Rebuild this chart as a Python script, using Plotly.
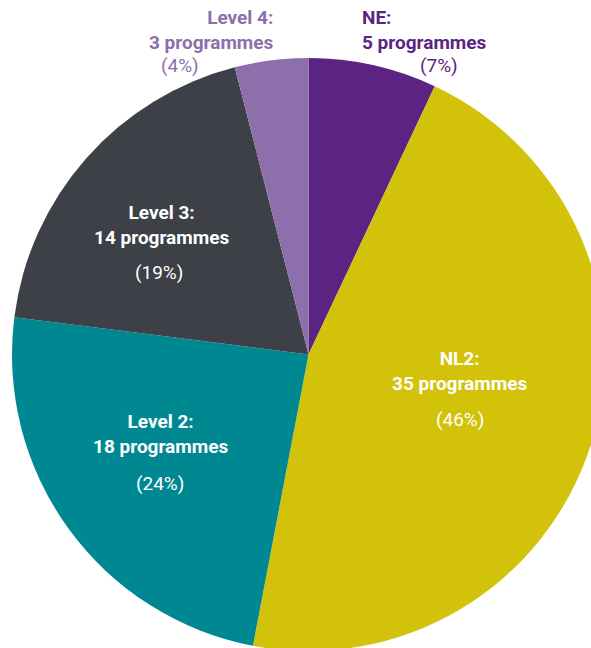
import plotly.graph_objects as go

# Data
categories = ["NE", "NL2", "Level 2", "Level 3", "Level 4"]
programmes = [5, 35, 18, 14, 3]
percentages = [7, 46, 24, 19, 4]
colors = ["#5c2482", "#d3c20a", "#008892", "#3d4047", "#8c6fab"]
label_colors = ["#5c2482", "#ffffff", "#ffffff", "#ffffff", "#8c6fab"]

# Figure geometry (pixels)
L, T, PW, PH = 12, 58, 593, 593
W, H = L + PW + 5, T + PH + 5

fig = go.Figure(go.Pie(
    labels=categories,
    values=percentages,
    marker=dict(colors=colors, line=dict(width=0)),
    sort=False,
    direction="clockwise",
    rotation=0,
    textinfo="none",
    hoverinfo="label+value",
    showlegend=False,
))

def px(x):
    return (x - L) / PW

def py(y):
    return 1 - (y - T) / PH

# label placement: (block x, block y, anchor, percent x, percent y)
label_pos = {
    "NE": (360, 30, "left", 439, 65),
    "NL2": (459, 371, "center", 460, 419),
    "Level 2": (160, 434, "center", 160, 483),
    "Level 3": (161, 225, "center", 159, 272),
    "Level 4": (276, 30, "right", 180, 65),
}

annotations = []
for cat, n, pct, col in zip(categories, programmes, percentages, label_colors):
    bx, by, anc, pxx, pyy = label_pos[cat]
    annotations.append(dict(
        x=px(bx), y=py(by), xref="paper", yref="paper",
        text=f"<b>{cat}:<br>{n} programmes</b>",
        showarrow=False, xanchor=anc, yanchor="middle", align=anc,
        font=dict(family="Roboto", size=19, color=col),
    ))
    annotations.append(dict(
        x=px(pxx), y=py(pyy), xref="paper", yref="paper",
        text=f"({pct}%)",
        showarrow=False, xanchor="center", yanchor="middle",
        font=dict(family="Roboto", size=19, color=col),
    ))

fig.update_layout(
    width=W, height=H,
    margin=dict(l=L, t=T, r=W - L - PW, b=H - T - PH, pad=0),
    paper_bgcolor="white",
    plot_bgcolor="white",
    annotations=annotations,
    font=dict(family="Roboto"),
)

fig.write_html(
    "out.html",
    config={"displayModeBar": False},
    post_script="document.body.style.margin='0';document.body.style.overflow='hidden';",
)
